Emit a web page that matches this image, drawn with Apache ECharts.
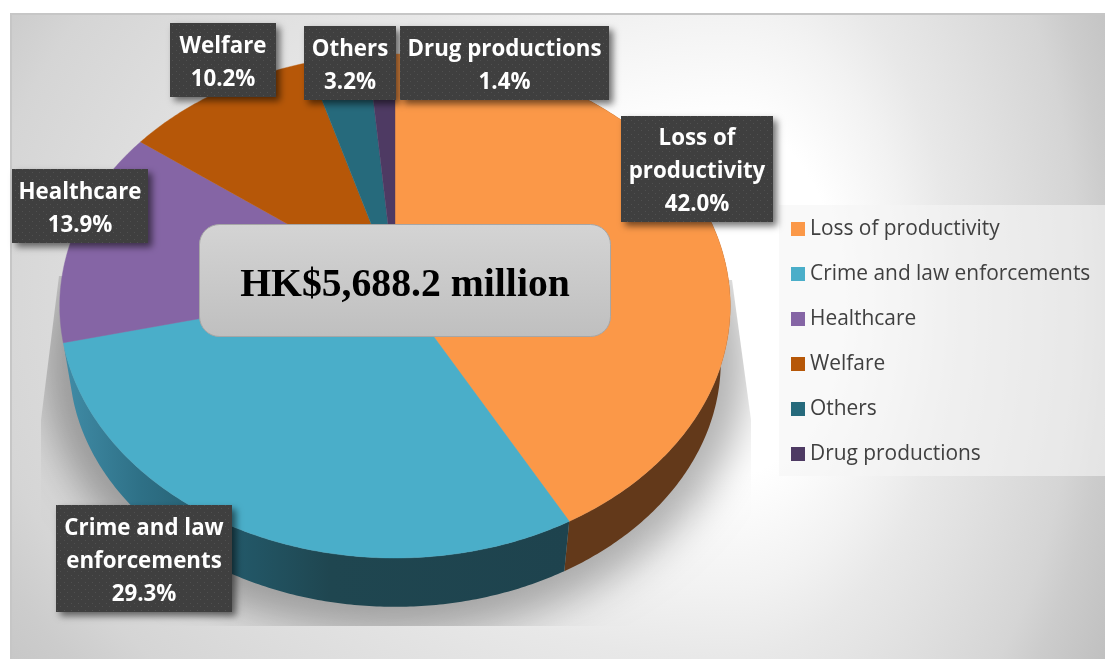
<!DOCTYPE html>
<html>
<head>
<meta charset="utf-8">
<style>html,body{margin:0;padding:0;background:#fff}#chart{width:1105px;height:659px}</style>
<script src="https://cdn.jsdelivr.net/npm/echarts@6/dist/echarts.min.js"></script>
</head>
<body>
<div id="chart"></div>
<script>
// Cost breakdown, percent of the total
const categories = ['Loss of productivity', 'Crime and law enforcements', 'Healthcare', 'Welfare', 'Others', 'Drug productions'];
const shares = [42.0, 29.3, 13.9, 10.2, 3.2, 1.4];
const labelTexts = ['Loss of\nproductivity', 'Crime and law\nenforcements', 'Healthcare', 'Welfare', 'Others', 'Drug productions'];
const totalLabel = 'HK$5,688.2 million';

const faceColors = ['#fb9848', '#4aaec9', '#8565a5', '#b65708', '#266a7c', '#4e3a63'];
const labelBoxes = [[621, 116, 152, 106], [56, 505, 176, 107], [12, 169, 136, 74], [170, 23, 106, 74], [304, 26, 92, 74], [400, 26, 209, 74]];

// Tilted disc: a unit circle projected with a little perspective
const DISC = {cx: 395, apexY: 284, bx: 334, ay: 250.1, k: 0.0873, drop: 0.9715, dropY: 2271};
const TOTAL = shares.reduce((a, b) => a + b, 0);

function rimPoint(share) {
  const t = 2 * Math.PI * share / TOTAL;
  const u = Math.sin(t), v = -Math.cos(t), d = 1 - DISC.k * v;
  return [DISC.cx + DISC.bx * u / d, DISC.apexY + DISC.ay * v / d];
}
function lowerPoint(p) {
  return [DISC.cx + (p[0] - DISC.cx) * DISC.drop, DISC.dropY + (p[1] - DISC.dropY) * DISC.drop];
}
function rimRun(from, to) {
  const pts = [], n = Math.max(2, Math.ceil((to - from) * TOTAL / 100 * 6));
  for (let i = 0; i <= n; i++) pts.push(rimPoint(from + (to - from) * i / n));
  return pts;
}

let running = 0;
const spans = shares.map(s => { const span = [running, running + s]; running += s; return span; });

// Small staggered dots used as the fill of the value labels
function dotPattern() {
  const c = document.createElement('canvas');
  c.width = 7; c.height = 7;
  const g = c.getContext('2d');
  g.fillStyle = '#3f3f3f'; g.fillRect(0, 0, 7, 7);
  g.fillStyle = '#505050';
  g.fillRect(1, 1, 1, 1); g.fillRect(4, 4, 1, 1);
  return {image: c, repeat: 'repeat'};
}
const dots = dotPattern();

// Panel glow: an off-centre ellipse, built from two stretched halves
const GLOW = {x: 730, y: 300, leftStretch: 2.15, upright: 1.6};
const glowStops = [[0, '#ffffff'], [110, '#ffffff'], [180, '#f2f2f2'], [224, '#e8e8e8'], [350, '#d5d5d5'], [380, '#cccccc'], [437, '#c0c0c0'], [560, '#b8b8b8']];
const glowFill = {type: 'radial', x: 0, y: 0, r: 560, global: true,
  colorStops: glowStops.map(s => ({offset: s[0] / 560, color: s[1]}))};

// Only the two front slices show a side wall; the others face away
const wallFills = [
  '#63391a',
  {type: 'linear', x: 60, y: 0, x2: 570, y2: 0, global: true, colorStops: [
    {offset: 0, color: '#418da8'}, {offset: 0.16, color: '#2e7086'}, {offset: 0.33, color: '#235a6b'},
    {offset: 0.53, color: '#1f4650'}, {offset: 1, color: '#1e434e'}]}
];

const faceSeries = categories.map((name, i) => ({
  type: 'custom', name, coordinateSystem: 'none', z: 4, silent: true,
  itemStyle: {color: faceColors[i]},
  data: [spans[i]],
  renderItem(params, api) {
    const pts = [[DISC.cx, DISC.apexY]].concat(rimRun(api.value(0), api.value(1)));
    return {type: 'polygon', shape: {points: pts},
      style: {fill: faceColors[i], stroke: faceColors[i], lineWidth: 0.4}};
  }
}));

const panelTop = (13 - GLOW.y) / GLOW.upright, panelH = 646 / GLOW.upright;

const option = {
  animation: false,
  legend: {
    data: categories, orient: 'vertical', left: 791, top: 217, padding: 0,
    itemWidth: 14, itemHeight: 14, itemGap: 21, icon: 'rect', selectedMode: false,
    textStyle: {fontFamily: 'Open Sans', fontSize: 20.9, color: '#404040', lineHeight: 24}
  },
  graphic: [
    {type: 'rect', z: 0, x: GLOW.x, y: GLOW.y, scaleY: GLOW.upright,
      shape: {x: 0, y: panelTop, width: 375, height: panelH}, style: {fill: glowFill}},
    {type: 'rect', z: 0, x: GLOW.x, y: GLOW.y, scaleX: GLOW.leftStretch, scaleY: GLOW.upright,
      shape: {x: -720 / GLOW.leftStretch, y: panelTop, width: 720 / GLOW.leftStretch, height: panelH}, style: {fill: glowFill}},
    {type: 'rect', z: 0, shape: {x: 10, y: 13, width: 1095, height: 2}, style: {fill: '#c6c6c6'}},
    {type: 'rect', z: 0, shape: {x: 10, y: 13, width: 2, height: 646}, style: {fill: '#c6c6c6'}},
    {type: 'rect', z: 0, shape: {x: 779, y: 205, width: 326, height: 271}, style: {fill: 'rgba(245,245,245,0.6)'}},
    {type: 'rect', z: 5, shape: {x: 199.5, y: 224.5, width: 411, height: 112, r: 20},
      style: {stroke: '#a6a6a6', lineWidth: 1,
        fill: {type: 'linear', x: 0, y: 0, x2: 0, y2: 1, colorStops: [{offset: 0, color: '#d4d4d4'}, {offset: 1, color: '#bfbfbf'}]}}},
    {type: 'text', z: 6, x: 405, y: 285.5,
      style: {text: totalLabel, fill: '#000', align: 'center', verticalAlign: 'middle',
        fontFamily: 'Liberation Serif', fontWeight: 'bold', fontSize: 39.7}}
  ],
  series: [
    {
      // Soft shadow under the disc, cut off by a tapered outline; the shape
      // itself sits off to the side so that only its blur lands on the panel
      type: 'custom', name: 'Shadow', coordinateSystem: 'none', z: 1, silent: true,
      data: [[0, TOTAL]],
      renderItem(params, api) {
        const pts = rimRun(api.value(0), api.value(1)).map(lowerPoint)
          .map(p => [DISC.cx + (p[0] - DISC.cx) * 1.08 - 2000, 354 + (p[1] - 354) * 1.1]);
        return {type: 'polygon', shape: {points: pts},
          clipPath: {type: 'polygon', shape: {points: [[59, 276], [41, 420], [41, 626], [751, 626], [751, 420], [732, 280]]}},
          style: {fill: '#000', shadowOffsetX: 2000, shadowBlur: 40, shadowColor: 'rgba(0,0,0,0.3)'}};
      }
    },
    {
      type: 'custom', name: 'Walls', coordinateSystem: 'none', z: 2, silent: true,
      data: spans.slice(0, 2),
      renderItem(params, api) {
        const top = rimRun(api.value(0), api.value(1));
        const pts = top.concat(top.slice().reverse().map(lowerPoint));
        return {type: 'polygon', shape: {points: pts}, style: {fill: wallFills[params.dataIndex]}};
      }
    },
    ...faceSeries,
    {
      // Value labels in dotted dark boxes
      type: 'custom', name: 'Labels', coordinateSystem: 'none', z: 7, silent: true,
      data: shares.map((s, i) => [s, i]),
      renderItem(params, api) {
        const i = api.value(1), b = labelBoxes[i];
        return {type: 'group', children: [
          {type: 'rect', shape: {x: b[0], y: b[1], width: b[2], height: b[3]},
            style: {fill: dots, shadowBlur: 7, shadowOffsetX: 4, shadowOffsetY: 4, shadowColor: 'rgba(0,0,0,0.55)'}},
          {type: 'text', x: b[0] + b[2] / 2, y: b[1] + b[3] / 2 + 3,
            style: {text: labelTexts[i] + '\n' + api.value(0).toFixed(1) + '%', fill: '#fff',
              align: 'center', verticalAlign: 'middle', lineHeight: 33,
              fontFamily: 'Open Sans', fontWeight: 'bold', fontSize: 22.3}}
        ]};
      }
    }
  ]
};

echarts.init(document.getElementById('chart'), null, {renderer: 'canvas'}).setOption(option);
</script>
</body>
</html>
